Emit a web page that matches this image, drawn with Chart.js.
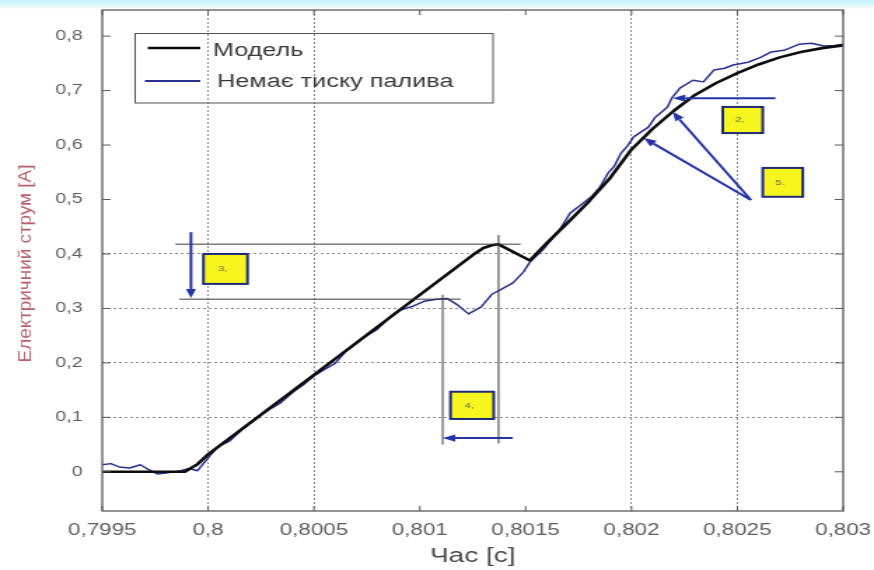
<!DOCTYPE html>
<html><head><meta charset="utf-8">
<script src="https://cdn.jsdelivr.net/npm/chart.js@4/dist/chart.umd.min.js"></script>
<style>
html,body{margin:0;padding:0;background:#fff;width:874px;height:570px;overflow:hidden;}
#strip{position:absolute;left:0;top:0;width:874px;height:9px;background:linear-gradient(180deg,#c6f1fa 0%,#dcf7fc 60%,#ffffff 100%);}
#wrap{position:absolute;left:0;top:0;width:624px;height:570px;transform:scaleX(1.40064);transform-origin:0 0;}
</style></head><body>
<div id="strip"></div>
<div id="wrap"><canvas id="c" width="624" height="570"></canvas></div>
<script>
// ---- axis ticks ----
const xTickValues = [0.7995, 0.8, 0.8005, 0.801, 0.8015, 0.802, 0.8025, 0.803];
const xTickLabels = ['0,7995', '0,8', '0,8005', '0,801', '0,8015', '0,802', '0,8025', '0,803'];
const xGridValues = [0.8, 0.8005, 0.802, 0.8025];
const yTickValues = [0, 0.1, 0.2, 0.3, 0.4, 0.5, 0.6, 0.7, 0.8];
const yTickLabels = ['0', '0,1', '0,2', '0,3', '0,4', '0,5', '0,6', '0,7', '0,8'];
const yGridValues = [0.1, 0.2, 0.3, 0.4];
const xTitle = 'Час [c]';
const yTitle = 'Електричний струм [A]';
const seriesNames = ['Модель', 'Немає тиску палива'];

// ---- series: "Модель" ----
const modelX = [0.7995, 0.79989, 0.79995, 0.8, 0.8005, 0.801, 0.80125, 0.8013, 0.80134, 0.80137,
  0.80152, 0.8016, 0.8017, 0.8018, 0.8019, 0.802, 0.8021, 0.8022, 0.8023, 0.8024, 0.8025,
  0.8026, 0.8027, 0.8028, 0.8029, 0.803];
const modelY = [0, 0, 0.014, 0.032, 0.178, 0.325, 0.398, 0.411, 0.416, 0.418,
  0.388, 0.42, 0.458, 0.497, 0.54, 0.592, 0.63, 0.663, 0.692, 0.714, 0.732,
  0.748, 0.761, 0.771, 0.778, 0.783];

// ---- series: "Немає тиску палива" ----
const noPressureX = [0.7995, 0.79954, 0.79958, 0.79963, 0.79968, 0.79971, 0.79976, 0.79981, 0.79987,
  0.79991, 0.79995, 0.80001, 0.80005, 0.8001, 0.80015, 0.8002, 0.80025, 0.8003, 0.80034, 0.8004,
  0.80045, 0.8005, 0.80055, 0.8006, 0.80065, 0.8007, 0.80075, 0.8008, 0.80085, 0.8009, 0.80096,
  0.80102, 0.80108, 0.80113, 0.80118, 0.80123, 0.80129, 0.80134, 0.80138, 0.80144, 0.80149,
  0.80152, 0.80158, 0.80166, 0.80171, 0.80176, 0.80181, 0.80185, 0.80189, 0.80192, 0.80195,
  0.80198, 0.80201, 0.80208, 0.80211, 0.80217, 0.80219, 0.80223, 0.80229, 0.80234, 0.80239,
  0.80244, 0.80248, 0.80255, 0.80261, 0.80266, 0.80272, 0.80279, 0.80285, 0.80291, 0.80296, 0.803];
const noPressureY = [0.013, 0.015, 0.009, 0.007, 0.013, 0.006, -0.004, -0.002, 0.002,
  0.006, 0.002, 0.03, 0.047, 0.056, 0.074, 0.089, 0.104, 0.117, 0.126, 0.146,
  0.16, 0.176, 0.188, 0.199, 0.221, 0.236, 0.25, 0.262, 0.281, 0.296, 0.303,
  0.313, 0.317, 0.318, 0.306, 0.29, 0.303, 0.326, 0.334, 0.347, 0.367,
  0.385, 0.407, 0.444, 0.475, 0.49, 0.505, 0.522, 0.549, 0.562, 0.585,
  0.598, 0.615, 0.633, 0.65, 0.67, 0.686, 0.705, 0.719, 0.716, 0.738,
  0.741, 0.747, 0.752, 0.761, 0.771, 0.774, 0.785, 0.787, 0.782, 0.783, 0.785];

// ---- annotations (data coordinates) ----
const levelLines = [[0.799845, 0.801476, 0.418], [0.799864, 0.801193, 0.317]];   // x1, x2, y
const markerLines = [[0.801108, 0.325, 0.05], [0.801372, 0.435, 0.052]];          // x, y1, y2
const arrows = [                                                                   // tail x,y -> tip x,y
  [0.799919, 0.44, 0.799919, 0.319],
  [0.801439, 0.062, 0.801108, 0.062],
  [0.80268, 0.686, 0.802195, 0.686],
  [0.802564, 0.499, 0.802195, 0.661],
  [0.802564, 0.499, 0.802058, 0.613]
];
const labelBoxes = [                                                               // x1, x2, yTop, yBottom, text
  [0.799978, 0.800186, 0.4, 0.345, '3,'],
  [0.801145, 0.801349, 0.147, 0.097, '4,'],
  [0.802431, 0.80262, 0.67, 0.622, '2,'],
  [0.80262, 0.802809, 0.558, 0.505, '5.']
];

const FONT = "'Liberation Sans', Arial, sans-serif";
const near = (a, arr) => arr.some(v => Math.abs(v - a) < 1e-9);
const NONE = 'rgba(0,0,0,0)';

const extras = {
  id: 'extras',
  afterDatasetsDraw(chart) {
    const {ctx, scales: {x, y}} = chart;
    const px = v => x.getPixelForValue(v), py = v => y.getPixelForValue(v);
    ctx.save();
    ctx.lineCap = 'butt';
    ctx.strokeStyle = '#3c3c3c'; ctx.lineWidth = 1;
    levelLines.forEach(([x1, x2, yy]) => {
      ctx.beginPath(); ctx.moveTo(px(x1), py(yy)); ctx.lineTo(px(x2), py(yy)); ctx.stroke();
    });
    markerLines.forEach(([xx, y1, y2]) => {
      ctx.beginPath(); ctx.moveTo(px(xx), py(y1)); ctx.lineTo(px(xx), py(y2)); ctx.stroke();
    });
    ctx.strokeStyle = '#2434a6'; ctx.fillStyle = '#2434a6'; ctx.lineWidth = 2;
    arrows.forEach(([x1, y1, x2, y2]) => {
      const ax = px(x1), ay = py(y1), bx = px(x2), by = py(y2);
      const ang = Math.atan2(by - ay, bx - ax);
      const L = 9, W = 3.6;
      const cx = bx - L * Math.cos(ang), cy = by - L * Math.sin(ang);
      ctx.beginPath(); ctx.moveTo(ax, ay); ctx.lineTo(cx, cy); ctx.stroke();
      ctx.beginPath();
      ctx.moveTo(bx, by);
      ctx.lineTo(cx + W * Math.sin(ang), cy - W * Math.cos(ang));
      ctx.lineTo(cx - W * Math.sin(ang), cy + W * Math.cos(ang));
      ctx.closePath(); ctx.fill();
    });
    labelBoxes.forEach(([x1, x2, yt, yb, t]) => {
      const l = px(x1), r = px(x2), tp = py(yt), bt = py(yb);
      ctx.fillStyle = '#f7f51e';
      ctx.fillRect(l, tp, r - l, bt - tp);
      ctx.strokeStyle = '#1f2a78'; ctx.lineWidth = 2;
      ctx.strokeRect(l, tp, r - l, bt - tp);
      ctx.fillStyle = '#6a6a50';
      ctx.font = '8px ' + FONT;
      ctx.textAlign = 'center'; ctx.textBaseline = 'middle';
      ctx.fillText(t, (l + r) / 2 - 2, (tp + bt) / 2);
    });
    ctx.restore();
  },
  afterDraw(chart) {
    const {ctx, chartArea: a, scales: {x, y}} = chart;
    ctx.save();
    ctx.strokeStyle = '#5a5a5a'; ctx.lineWidth = 1.3;
    ctx.strokeRect(a.left, a.top, a.right - a.left, a.bottom - a.top);
    ctx.lineWidth = 1;
    xTickValues.forEach(v => {
      const p = x.getPixelForValue(v);
      ctx.beginPath(); ctx.moveTo(p, a.bottom); ctx.lineTo(p, a.bottom - 5);
      ctx.moveTo(p, a.top); ctx.lineTo(p, a.top + 5); ctx.stroke();
    });
    yTickValues.forEach(v => {
      const p = y.getPixelForValue(v);
      ctx.beginPath(); ctx.moveTo(a.left, p); ctx.lineTo(a.left + 6, p);
      ctx.moveTo(a.right, p); ctx.lineTo(a.right - 6, p); ctx.stroke();
    });
    // legend
    const ds = chart.data.datasets;
    ctx.strokeStyle = '#555'; ctx.lineWidth = 1;
    ctx.strokeRect(96.5, 33.5, 255.5, 69.5);
    ctx.lineWidth = 2.6; ctx.strokeStyle = ds[0].borderColor;
    ctx.beginPath(); ctx.moveTo(105.5, 48); ctx.lineTo(143, 48); ctx.stroke();
    ctx.lineWidth = 2; ctx.strokeStyle = ds[1].borderColor;
    ctx.beginPath(); ctx.moveTo(103.5, 81); ctx.lineTo(143, 81); ctx.stroke();
    ctx.fillStyle = '#3a3a3a'; ctx.font = '18px ' + FONT;
    ctx.textAlign = 'left'; ctx.textBaseline = 'middle';
    ctx.fillText(ds[0].label, 152, 51);
    ctx.fillText(ds[1].label, 155, 82);
    // y axis title
    ctx.translate(18.8, 263.5);
    ctx.rotate(-Math.PI / 2);
    ctx.scale(1, 0.69);
    ctx.fillStyle = '#b5606b';
    ctx.font = '18.9px ' + FONT;
    ctx.textAlign = 'center'; ctx.textBaseline = 'middle';
    ctx.fillText(yTitle, 0, 0);
    ctx.restore();
  }
};

new Chart(document.getElementById('c'), {
  type: 'line',
  data: {
    datasets: [
      { label: seriesNames[0], data: modelX.map((v, i) => ({x: v, y: modelY[i]})),
        borderColor: '#0c0c0c', borderWidth: 2.6, pointRadius: 0, tension: 0, borderJoinStyle: 'round' },
      { label: seriesNames[1], data: noPressureX.map((v, i) => ({x: v, y: noPressureY[i]})),
        borderColor: '#28308e', borderWidth: 1.5, pointRadius: 0, tension: 0, borderJoinStyle: 'round' }
    ]
  },
  options: {
    responsive: false, animation: false, devicePixelRatio: 1,
    layout: { autoPadding: false, padding: { left: 0, top: 10, right: 22, bottom: 0 } },
    plugins: { legend: { display: false }, tooltip: { enabled: false } },
    scales: {
      x: {
        type: 'linear', min: 0.7995, max: 0.803,
        afterBuildTicks: s => { s.ticks = xTickValues.map(v => ({value: v})); },
        afterFit: s => { s.height = 59; },
        ticks: { callback: (v, i) => xTickLabels[i], autoSkip: false, maxRotation: 0, padding: 0,
                 color: '#5e5e5e', font: { family: FONT, size: 16 } },
        grid: { drawTicks: true, tickLength: 10, tickColor: NONE, lineWidth: 1,
                color: c => (c.tick && near(c.tick.value, xGridValues)) ? '#8c8c8c' : NONE },
        border: { display: false, dash: [2, 2] },
        title: { display: true, text: xTitle, color: '#4a4a4a', font: { family: FONT, size: 20 },
                 padding: { top: 0, bottom: 2 } }
      },
      y: {
        type: 'linear', min: -0.072, max: 0.848,
        afterBuildTicks: s => { s.ticks = yTickValues.map(v => ({value: v})); },
        afterFit: s => { s.width = 73; },
        ticks: { callback: (v, i) => yTickLabels[i], autoSkip: false, padding: 0,
                 color: '#5e5e5e', font: { family: FONT, size: 14 } },
        grid: { drawTicks: true, tickLength: 14, tickColor: NONE, lineWidth: 1,
                color: c => (c.tick && near(c.tick.value, yGridValues)) ? '#8c8c8c' : NONE },
        border: { display: false, dash: [2, 2] }
      }
    }
  },
  plugins: [extras]
});
</script>
</body></html>
